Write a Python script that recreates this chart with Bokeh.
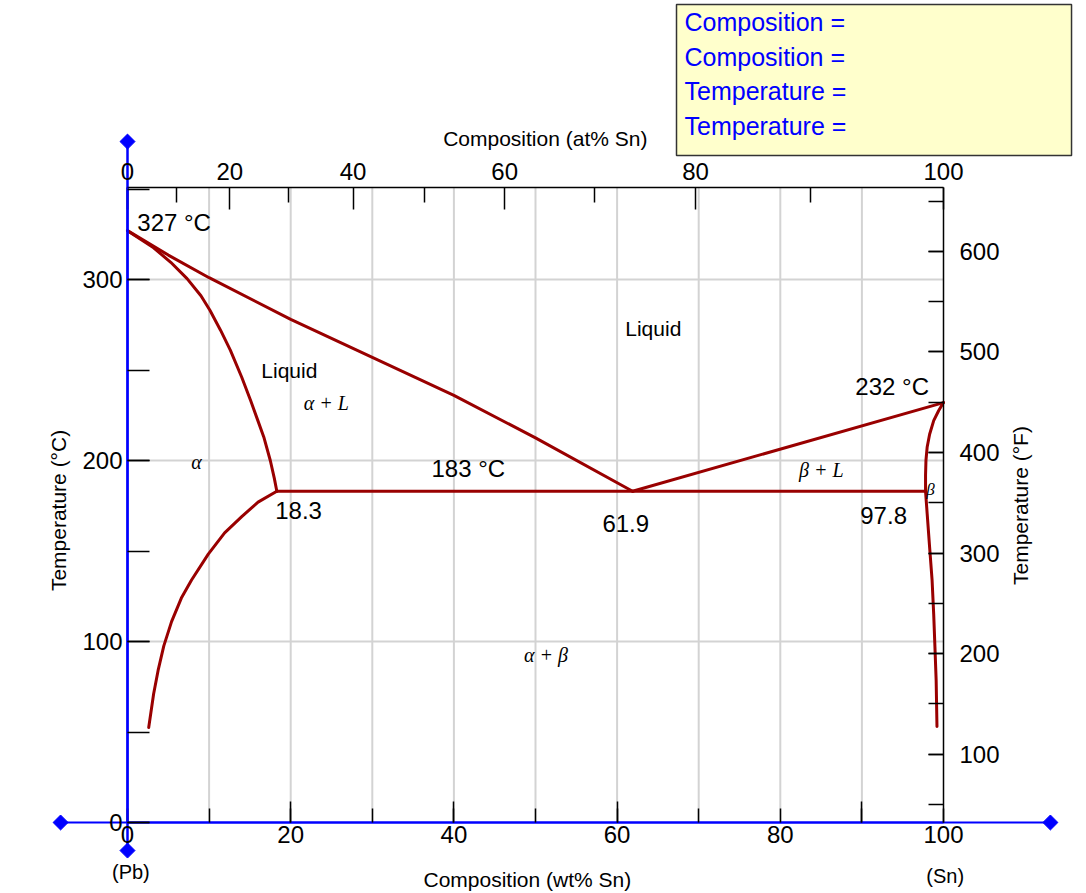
import math
from bokeh.plotting import figure
from bokeh.models import (Range1d, LinearAxis, FixedTicker, SingleIntervalTicker,
                          CustomJSTickFormatter, ColumnDataSource)
from bokeh.core.properties import value
from bokeh.embed import file_html
from bokeh.resources import INLINE

# ---------------- data (wt% Sn, temperature in deg C) ----------------
liq_pb_w = [0, 5, 10, 20, 30, 40, 50, 61.9]
liq_pb_T = [327, 313.5, 301, 278, 257, 236, 212.5, 183]

sol_pb_w = [0, 3.2, 5.3, 7.3, 9.0, 10.1, 11.4, 12.6, 14.0, 15.1, 15.9, 16.7, 17.5, 18.0, 18.3]
sol_pb_T = [327, 317.5, 309.5, 300.5, 291, 283, 272, 261, 246, 233, 223, 213, 200, 190, 183]

solvus_pb_w = [18.3, 16.0, 14.0, 11.9, 9.9, 7.85, 6.6, 5.4, 4.45, 3.75, 3.2, 2.6]
solvus_pb_T = [183, 177, 169, 160, 148.3, 134, 124, 111, 97.6, 84, 71, 52.5]

eutectic_w = [18.3, 97.8]
eutectic_T = [183, 183]

liq_sn_w = [61.9, 100]
liq_sn_T = [183, 232]

sol_sn_w = [100, 99.4, 98.8, 98.3, 98.0, 97.85, 97.8, 97.8]
sol_sn_T = [232, 227.5, 222, 214.5, 207.5, 200, 192, 183]

solvus_sn_w = [97.8, 98.0, 98.3, 98.6, 98.8, 98.95, 99.1, 99.2]
solvus_sn_T = [183, 170.5, 152, 134, 115, 97, 78.5, 53]

wt_ticks = [0, 10, 20, 30, 40, 50, 60, 70, 80, 90, 100]
wt_long_ticks = [20, 40, 60, 90]
at_major = [0, 20, 40, 60, 80, 100]
at_minor = [10, 30, 50, 70, 90]
grid_w = [10, 20, 30, 40, 50, 60, 70, 80, 90]
grid_T = [100, 200, 300]

M_SN, M_PB = 118.71, 207.2

# region labels: (text, wt, T)
sans_labels = [("327 °C", 1.2, 331.7), ("183 °C", 37.25, 195.6), ("18.3", 18.1, 172.4),
               ("61.9", 58.2, 165.2), ("97.8", 89.8, 169.6), ("232 °C", 89.2, 241.0)]
liquid_labels = [("Liquid", 16.4, 250.0), ("Liquid", 61.0, 273.0)]
greek_labels = [("α + L", 21.6, 232.0), ("α", 7.8, 199.0), ("β + L", 82.3, 195.0),
                ("α + β", 48.6, 92.8)]
end_labels = [("(Pb)", -1.9, -27.5), ("(Sn)", 97.9, -29.8)]
info_lines = ["Composition =", "Composition =", "Temperature =", "Temperature ="]
info_T = [442.0, 423.2, 404.4, 385.0]

# ---------------- layout constants ----------------
T_MAX = 351
PX_X0, PX_PER_WT = 127.0, 8.16      # canvas x of 0 wt%, pixels per wt%
PX_Y0, PX_PER_C = 822.0, 1.81       # canvas y of 0 deg C, pixels per deg C
W, H = 1086, 893
RED = "#990000"
BLUE = "#0000ff"
FONT = "Liberation Sans"

x_lo, x_hi = -PX_X0 / PX_PER_WT, (W - PX_X0) / PX_PER_WT
y_lo, y_hi = (PX_Y0 - H) / PX_PER_C, PX_Y0 / PX_PER_C


def at_to_wt(a):
    return 100.0 * a * M_SN / (a * M_SN + (100 - a) * M_PB)


p = figure(width=W, height=H, x_range=Range1d(x_lo, x_hi), y_range=Range1d(y_lo, y_hi),
           output_backend="svg", toolbar_location=None,
           x_axis_location=None, y_axis_location=None,
           min_border=0, min_border_left=0, min_border_right=0,
           min_border_top=0, min_border_bottom=0)
p.center = []
p.outline_line_color = None
p.background_fill_color = "white"
p.border_fill_color = "white"
p.extra_y_ranges = {"F": Range1d(y_lo * 1.8 + 32, y_hi * 1.8 + 32)}


def style_axis(ax):
    ax.major_label_text_font = FONT
    ax.major_label_text_font_size = "24px"
    ax.major_label_text_color = "black"
    ax.major_tick_out = 0
    ax.minor_tick_out = 0
    ax.major_tick_line_color = "black"
    ax.minor_tick_line_color = "black"
    ax.major_tick_line_width = 1.5
    ax.minor_tick_line_width = 1.5


# grid lines
p.segment(x0=grid_w, y0=[0] * len(grid_w), x1=grid_w, y1=[T_MAX] * len(grid_w),
          line_color="#d3d3d3", line_width=2)
p.segment(x0=[0] * len(grid_T), y0=grid_T, x1=[100] * len(grid_T), y1=grid_T,
          line_color="#d3d3d3", line_width=2)

# bottom axis (wt% Sn)
xb = LinearAxis(ticker=FixedTicker(ticks=wt_ticks, minor_ticks=wt_long_ticks),
                formatter=CustomJSTickFormatter(
                    code="return (Math.round(tick) % 20 === 0) ? tick.toFixed(0) : '';"),
                fixed_location=0, bounds=(0, 100))
style_axis(xb)
xb.major_tick_in = 14
xb.minor_tick_in = 21
xb.axis_line_color = BLUE
xb.axis_line_width = 2
xb.major_label_standoff = 3
p.add_layout(xb, "below")

# top axis (at% Sn)
xt = LinearAxis(ticker=FixedTicker(ticks=[at_to_wt(a) for a in at_major],
                                   minor_ticks=[at_to_wt(a) for a in at_minor]),
                formatter=CustomJSTickFormatter(code="""
                    const w = tick;
                    if (w <= 0) { return "0"; }
                    const a = 100 * (w / 118.71) / ((w / 118.71) + (100 - w) / 207.2);
                    return Math.round(a).toString();
                """),
                fixed_location=T_MAX, bounds=(0, 100))
style_axis(xt)
xt.major_tick_in = 22
xt.minor_tick_in = 15
xt.axis_line_color = "black"
xt.axis_line_width = 1.5
xt.major_label_standoff = 7
p.add_layout(xt, "above")

# left axis (deg C)
yl = LinearAxis(ticker=SingleIntervalTicker(interval=100, num_minor_ticks=2),
                fixed_location=0, bounds=(0, T_MAX))
style_axis(yl)
yl.major_tick_in = 22
yl.minor_tick_in = 22
yl.axis_line_color = BLUE
yl.axis_line_width = 2
yl.major_label_standoff = 5
p.add_layout(yl, "left")

# right axis (deg F)
yr = LinearAxis(y_range_name="F", ticker=SingleIntervalTicker(interval=100, num_minor_ticks=2),
                fixed_location=100, bounds=(32, T_MAX * 1.8 + 32))
style_axis(yr)
yr.major_tick_in = 15
yr.minor_tick_in = 15
yr.axis_line_color = "black"
yr.axis_line_width = 1.5
yr.major_label_standoff = 16
p.add_layout(yr, "right")

# phase boundaries
for xs, ys in [(liq_pb_w, liq_pb_T), (sol_pb_w, sol_pb_T), (solvus_pb_w, solvus_pb_T),
               (eutectic_w, eutectic_T), (liq_sn_w, liq_sn_T), (sol_sn_w, sol_sn_T),
               (solvus_sn_w, solvus_sn_T)]:
    p.line(xs, ys, line_color=RED, line_width=3, line_join="round", line_cap="round")


def add_texts(items, size, font=FONT, style="normal", color="black", align="left", angle=0.0):
    src = ColumnDataSource(dict(t=[i[0] for i in items], x=[i[1] for i in items],
                                y=[i[2] for i in items]))
    p.text(x="x", y="y", text="t", source=src, text_font=value(font),
           text_font_size=value(size), text_font_style=style, text_color=color,
           text_align=align, text_baseline="middle", angle=angle)


add_texts(sans_labels, "24px")
add_texts(liquid_labels, "21px")
add_texts(greek_labels, "20px", font="Liberation Serif", style="italic")
add_texts([("β", 97.9, 184.0)], "17px", font="Liberation Serif", style="italic")
add_texts(end_labels, "20px")

# axis titles
add_texts([("Composition (wt% Sn)", 49.0, -31.5), ("Composition (at% Sn)", 51.2, 377.9)],
          "21px", align="center")
add_texts([("Temperature (°C)", -8.46, 172.4), ("Temperature (°F)", 109.4, 175.1)],
          "21px", align="center", angle=math.pi / 2)

# crosshair lines with diamond handles
H_LEFT, H_RIGHT, V_TOP, V_BOTTOM = -8.2, 113.1, 376.2, -15.5
p.line([H_LEFT, H_RIGHT], [0, 0], line_color=BLUE, line_width=2)
p.line([0, 0], [V_BOTTOM, V_TOP], line_color=BLUE, line_width=2.5)
p.scatter(x=[H_LEFT, H_RIGHT, 0, 0], y=[0, 0, V_TOP, V_BOTTOM], marker="square",
          angle=math.pi / 4, size=10.6, fill_color=BLUE, line_color=BLUE)

# info box
BOX_L, BOX_R, BOX_T, BOX_B = 67.28, 115.69, 451.9, 368.5
p.quad(left=[BOX_L], right=[BOX_R], top=[BOX_T], bottom=[BOX_B],
       fill_color="#ffffcc", line_color="#333333", line_width=1.5)
add_texts([(t, 68.26, y) for t, y in zip(info_lines, info_T)], "25px", color=BLUE)

open("out.html", "w").write(file_html(p, INLINE))
